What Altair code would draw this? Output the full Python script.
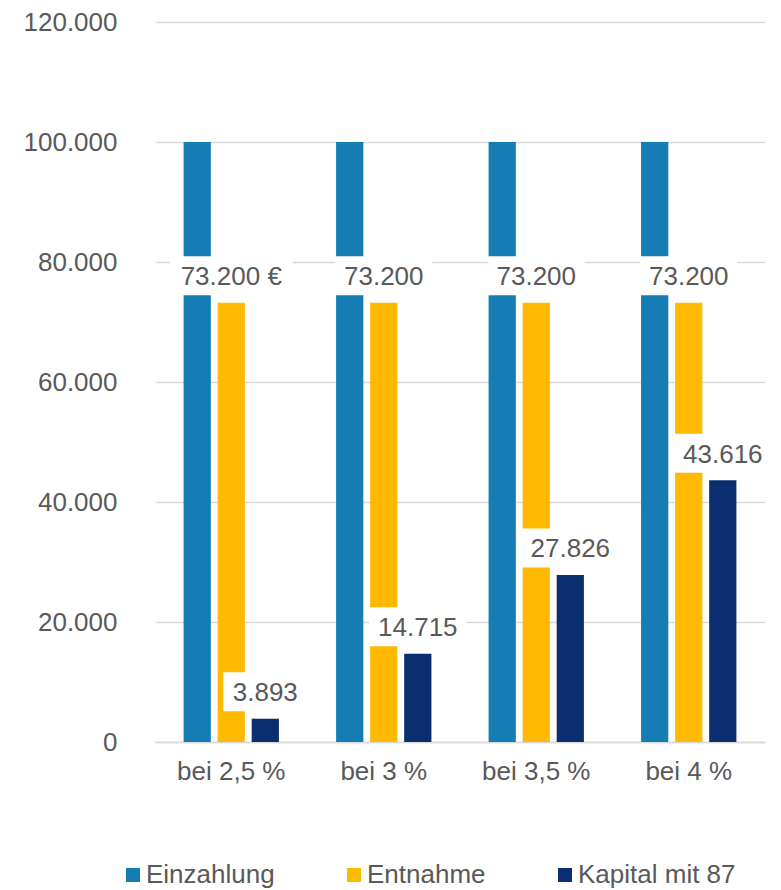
import altair as alt
import pandas as pd

# Values per scenario (withdrawal rate)
categories = ["bei 2,5 %", "bei 3 %", "bei 3,5 %", "bei 4 %"]
series = ["Einzahlung", "Entnahme", "Kapital mit 87"]
einzahlung = [100000, 100000, 100000, 100000]
entnahme = [73200, 73200, 73200, 73200]
kapital = [3893, 14715, 27826, 43616]
colors = ["#167cb4", "#ffb900", "#0b2e70"]

y_ticks = [0, 20000, 40000, 60000, 80000, 100000, 120000]

FONT = "Liberation Sans"
GREY = "#595959"
GRID = "#d9d9d9"


def de(v):
    return f"{v:,}".replace(",", ".")


rows = []
for i, c in enumerate(categories):
    rows.append({"cat": c, "series": series[0], "value": einzahlung[i]})
    rows.append({"cat": c, "series": series[1], "value": entnahme[i]})
    rows.append({"cat": c, "series": series[2], "value": kapital[i]})
bars_df = pd.DataFrame(rows)

label_rows = []
for i, c in enumerate(categories):
    label_rows.append({"cat": c, "series": series[1], "value": entnahme[i],
                       "label": de(entnahme[i]) + (" €" if i == 0 else "")})
    label_rows.append({"cat": c, "series": series[2], "value": kapital[i],
                       "label": de(kapital[i])})
labels_df = pd.DataFrame(label_rows)
labels_df["n"] = labels_df["label"].str.len()

x_enc = alt.X("cat:N", sort=categories,
              scale=alt.Scale(paddingInner=0, paddingOuter=0),
              axis=alt.Axis(title=None, labelAngle=0, labelFontSize=26, labelFont=FONT,
                            labelColor=GREY, ticks=False, domainColor=GRID,
                            domainWidth=1.5, labelPadding=16, grid=False))
xo_enc = alt.XOffset("series:N", sort=series,
                     scale=alt.Scale(paddingInner=0.2, paddingOuter=0.84))
y_scale = alt.Scale(domain=[0, 120000], nice=False)

bars = alt.Chart(bars_df).mark_bar().encode(
    x=x_enc,
    xOffset=xo_enc,
    y=alt.Y("value:Q", scale=y_scale,
            axis=alt.Axis(title=None, values=y_ticks, format=",d", labelFontSize=26,
                          labelFont=FONT, labelColor=GREY, ticks=False, domain=False,
                          labelPadding=38, gridColor=GRID, gridWidth=1.5)),
    color=alt.Color("series:N", sort=series,
                    scale=alt.Scale(domain=series, range=colors),
                    legend=alt.Legend(title=None, orient="none", direction="horizontal",
                                      legendX=-35, legendY=840, symbolType="square",
                                      symbolSize=196, symbolStrokeWidth=0,
                                      labelFontSize=26, labelFont=FONT, labelColor=GREY,
                                      labelOffset=0, columnPadding=66, padding=0)),
)

# White boxes behind the value labels, sized by label length
boxes = []
for n in sorted(labels_df["n"].unique()):
    boxes.append(
        alt.Chart(labels_df).transform_filter(f"length(datum.label) == {n}")
        .transform_calculate(lo="datum.value + 1250", hi="datum.value + 7750")
        .mark_bar(color="white", width=int(13 * n + 19))
        .encode(x=alt.X("cat:N", sort=categories), xOffset=alt.XOffset("series:N", sort=series),
                y=alt.Y("lo:Q", scale=y_scale), y2="hi:Q")
    )

texts = alt.Chart(labels_df).transform_calculate(ty="datum.value + 4300").mark_text(
    fontSize=26, font=FONT, color=GREY, baseline="middle", align="center"
).encode(
    x=alt.X("cat:N", sort=categories),
    xOffset=alt.XOffset("series:N", sort=series),
    y=alt.Y("ty:Q", scale=y_scale),
    text="label:N",
)

chart = alt.layer(bars, *boxes, texts).properties(
    width=610, height=720,
    autosize=alt.AutoSizeParams(type="none"),
    padding={"left": 155, "top": 22, "right": 16, "bottom": 148},
).configure(
    locale={"number": {"decimal": ",", "thousands": ".", "grouping": [3], "currency": ["", " €"]}},
    view={"stroke": None},
)

chart.save("out.html", embed_options={"renderer": "svg", "actions": False})
